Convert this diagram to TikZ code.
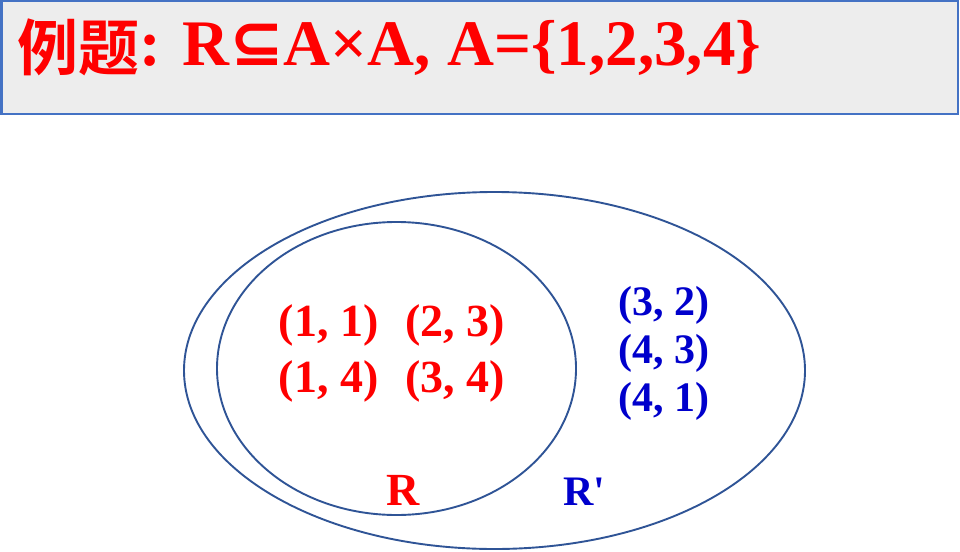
\documentclass[tikz,border=0pt]{standalone}
\usepackage{fontspec}
\usepackage{xcolor}
\usepackage{tikz}
\usetikzlibrary{positioning}
\setmainfont{Liberation Serif}
\newfontfamily\cjk{Noto Sans CJK SC}[BoldFont={Noto Sans CJK SC Bold}]
\newfontfamily\symb{DejaVu Sans}
\definecolor{titlegray}{HTML}{EDEDED}
\definecolor{boxblue}{HTML}{4472C4}
\definecolor{setline}{HTML}{2F5496}
\definecolor{relred}{HTML}{FF0000}
\definecolor{relblue}{HTML}{0000CC}
\tikzset{
  redpair/.style={anchor=base, text=relred, font=\fontsize{46}{50}\selectfont\bfseries},
  bluepair/.style={anchor=base, text=relblue, font=\fontsize{42}{46}\selectfont\bfseries},
}

\begin{document}
\begin{tikzpicture}[x=1pt, y=-1pt, inner sep=0pt]
  \useasboundingbox (0,0) rectangle (960,551);
  % Titel
  \draw[draw=boxblue, fill=titlegray, line width=2.5pt] (1.25,1.25) rectangle (957.75,114);
  \node[anchor=base west, text=relred, font=\fontsize{65}{70}\selectfont\bfseries] (title) at (17,66)
    {\raisebox{-5pt}{\fontsize{61}{61}\selectfont\cjk 例题}: R{\symb ⊆}A×A, A=\{1,2,3,4\}};

  % Mengen
  \draw[setline, line width=1.9pt] (494.5,370.5) ellipse [x radius=310.5, y radius=178.5];
  \draw[setline, line width=1.9pt] (396.5,368.5) ellipse [x radius=179.5, y radius=146.5];

  % R
  \node[redpair] (p11) at (328.5,336) {(1, 1)};
  \node[redpair] (p23) at (455,336) {(2, 3)};
  \node[redpair] (p14) at (328.5,392) {(1, 4)};
  \node[redpair] (p34) at (455,392) {(3, 4)};
  \node[redpair, font=\fontsize{46}{50}\selectfont\bfseries] (rname) at (403,505) {R};

  % R'
  \node[bluepair] (p32) at (664,315) {(3, 2)};
  \node[bluepair] (p43) at (664,363) {(4, 3)};
  \node[bluepair] (p41) at (664,411) {(4, 1)};
  \node[bluepair, font=\fontsize{42}{46}\selectfont\bfseries] (rcomp) at (584,505) {R\textquotesingle};
\end{tikzpicture}
\end{document}
